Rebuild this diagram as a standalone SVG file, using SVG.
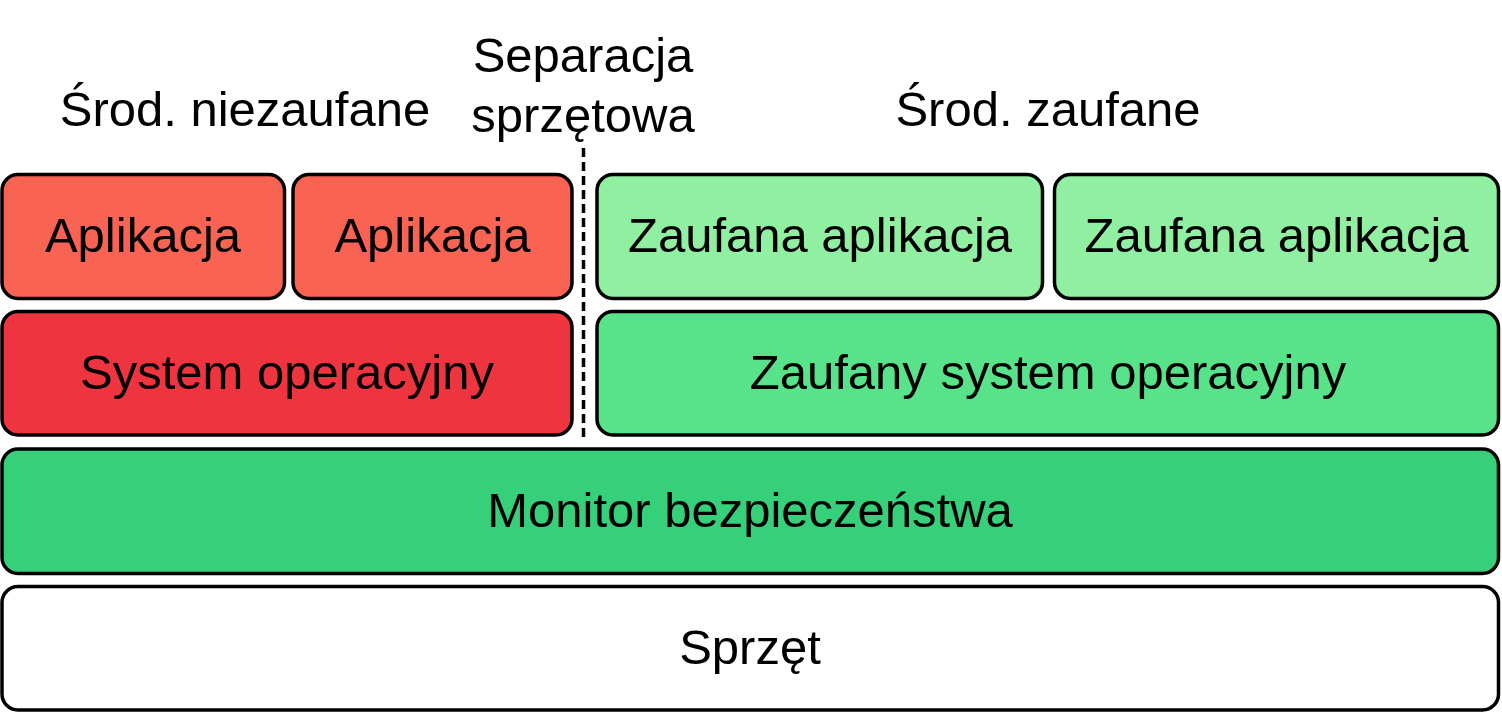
<svg xmlns="http://www.w3.org/2000/svg" width="1502" height="713" viewBox="0 0 1502 713">
<style>
.box{stroke:#000;stroke-width:3.5}
text{font-family:"Liberation Sans",Arial,sans-serif;font-size:49px;fill:#000;text-anchor:middle}
.app{fill:#f96354}
.os{fill:#ee343f}
.tapp{fill:#90efa1}
.tos{fill:#58e38b}
.mon{fill:#36d07b}
.hw{fill:#fff}
</style>
<rect width="1502" height="713" fill="#fff"/>
<g id="labels">
<text x="245" y="126">Środ. niezaufane</text>
<text x="583" y="72">Separacja</text>
<text x="583" y="132">sprzętowa</text>
<text x="1048" y="126">Środ. zaufane</text>
</g>
<g id="connectors">
<line x1="583.5" y1="148" x2="583.5" y2="441" stroke="#000" stroke-width="3.5" stroke-dasharray="9,5"/>
</g>
<g id="app1"><rect class="box app" x="2" y="174.5" width="282.5" height="124" rx="16"/><text x="143" y="252">Aplikacja</text></g>
<g id="app2"><rect class="box app" x="293" y="174.5" width="279" height="124" rx="16"/><text x="432.5" y="252">Aplikacja</text></g>
<g id="tapp1"><rect class="box tapp" x="597" y="174.5" width="445.5" height="124" rx="16"/><text x="820" y="252">Zaufana aplikacja</text></g>
<g id="tapp2"><rect class="box tapp" x="1054.5" y="174.5" width="444" height="124" rx="16"/><text x="1276.5" y="252">Zaufana aplikacja</text></g>
<g id="os"><rect class="box os" x="2" y="311.5" width="570" height="123.5" rx="16"/><text x="287" y="389">System operacyjny</text></g>
<g id="tos"><rect class="box tos" x="597" y="311.5" width="901.5" height="123.5" rx="16"/><text x="1048" y="389">Zaufany system operacyjny</text></g>
<g id="monitor"><rect class="box mon" x="2" y="449" width="1496.5" height="124.5" rx="16"/><text x="750" y="527">Monitor bezpieczeństwa</text></g>
<g id="hardware"><rect class="box hw" x="2" y="586.5" width="1496.5" height="123.5" rx="16"/><text x="750" y="664">Sprzęt</text></g>
</svg>
